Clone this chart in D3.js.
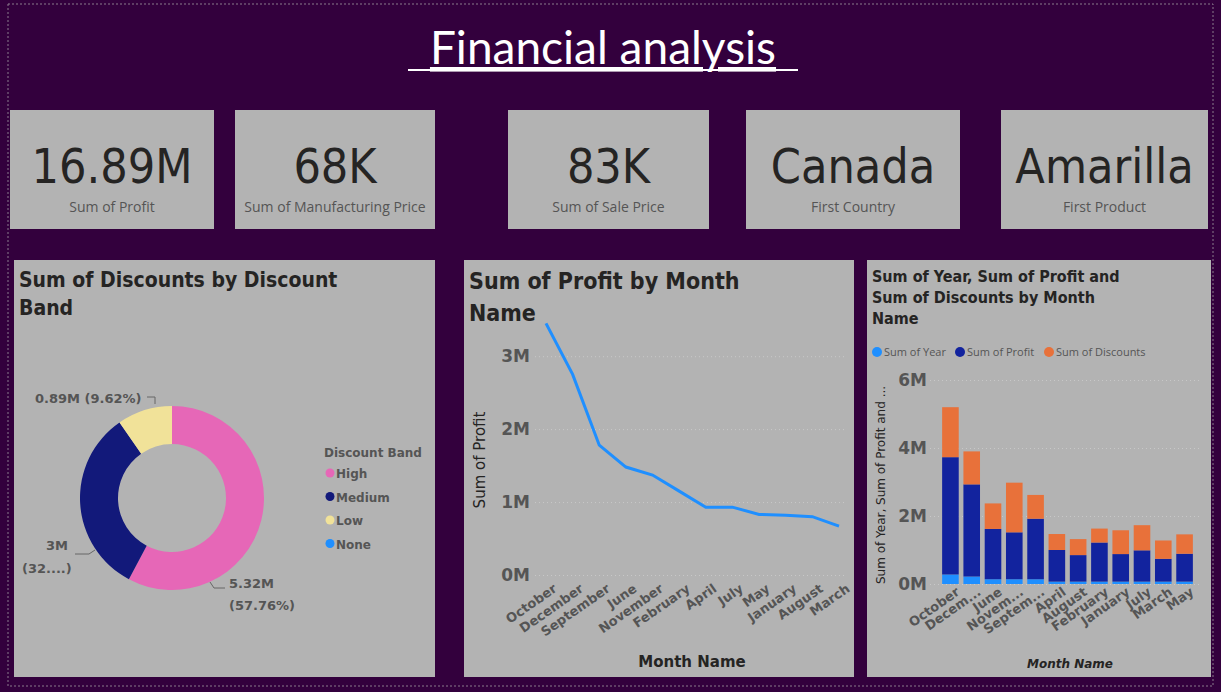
<!DOCTYPE html>
<html><head><meta charset="utf-8">
<script src="https://cdn.jsdelivr.net/npm/d3@7"></script>
<style>body{margin:0;background:#33003d;overflow:hidden}text{font-family:"DejaVu Sans",sans-serif}</style>
</head><body><svg id="c" width="1221" height="692"></svg>
<script>
// KPI cards
var kpiValues = ["16.89M", "68K", "83K", "Canada", "Amarilla"];
var kpiLabels = ["Sum of Profit", "Sum of Manufacturing Price", "Sum of Sale Price", "First Country", "First Product"];

// Donut
var bands = ["High", "Medium", "Low", "None"];
var bandValues = [5.32, 3.0, 0.89, 0];
var bandColors = ["#e667b7", "#12197a", "#f1e299", "#1f8fff"];

// Line chart
var lineMonths = ["October","December","September","June","November","February","April","July","May","January","August","March"];
var lineProfit = [3.45, 2.75, 1.78, 1.48, 1.37, 1.15, 0.93, 0.93, 0.83, 0.82, 0.80, 0.67];

// Stacked bars
var barMonths = ["October","Decem...","June","Novem...","Septem...","April","August","February","January","July","March","May"];
var barYear = [0.28, 0.22, 0.14, 0.14, 0.14, 0.07, 0.07, 0.07, 0.07, 0.07, 0.07, 0.07];
var barProfit = [3.45, 2.71, 1.48, 1.38, 1.78, 0.93, 0.78, 1.15, 0.81, 0.92, 0.67, 0.82];
var barDiscounts = [1.47, 0.97, 0.75, 1.46, 0.70, 0.47, 0.47, 0.41, 0.70, 0.74, 0.54, 0.57];
var barSeries = ["Sum of Year", "Sum of Profit", "Sum of Discounts"];
var barColors = ["#1f8fff", "#12239e", "#e8713a"];

var svg = d3.select("#c");
var grey = "#b3b3b3";

// outer dotted frame
svg.append("rect").attr("x", 8).attr("y", 4).attr("width", 1205).attr("height", 682)
   .attr("fill", "none").attr("stroke", "#8a7a8c").attr("stroke-dasharray", "2,2");

svg.append("text").attr("x", 603).attr("y", 64).attr("text-anchor", "middle")
   .attr("fill", "#fff").attr("font-size", 46).attr("text-decoration", "underline")
   .style("font-family", "Lato, sans-serif").text("Financial analysis");
svg.append("line").attr("x1", 408).attr("x2", 798).attr("y1", 70).attr("y2", 70)
   .attr("stroke", "#fff").attr("stroke-width", 2);

// cards
var cards = [[10, 204], [235, 200], [508, 201], [746, 214], [1001, 207]];
cards.forEach(function(c, i) {
  svg.append("rect").attr("x", c[0]).attr("y", 110).attr("width", c[1]).attr("height", 119).attr("fill", grey);
  svg.append("text").attr("x", c[0] + c[1] / 2).attr("y", 183).attr("text-anchor", "middle")
     .attr("font-size", 48).attr("fill", "#252423").style("font-family", "'DejaVu Sans Condensed', sans-serif").text(kpiValues[i]);
  svg.append("text").attr("x", c[0] + c[1] / 2).attr("y", 212).attr("text-anchor", "middle")
     .attr("font-size", 14).attr("fill", "#555").style("font-family", "'Open Sans', sans-serif").text(kpiLabels[i]);
});

// panels
function panel(x, y, w, h, lines, fs, lh) {
  svg.append("rect").attr("x", x).attr("y", y).attr("width", w).attr("height", h).attr("fill", grey);
  lines.forEach(function(t, i) {
    svg.append("text").attr("x", x + 5).attr("y", y + fs + 6 + i * lh).attr("font-size", fs)
       .attr("font-weight", "bold").attr("fill", "#252423").style("font-family", "'DejaVu Sans Condensed', sans-serif").text(t);
  });
}
panel(14, 260, 421, 417, ["Sum of Discounts by Discount", "Band"], 21, 28);
panel(464, 260, 390, 417, ["Sum of Profit by Month", "Name"], 23, 32);
panel(867, 260, 344, 417, ["Sum of Year, Sum of Profit and", "Sum of Discounts by Month", "Name"], 16, 21);

// ---- donut
var pie = d3.pie().sort(null).value(function(d) { return d; });
var arcs = pie(bandValues);
var arc = d3.arc().innerRadius(54).outerRadius(92);
var dg = svg.append("g").attr("transform", "translate(172,498)");
dg.selectAll("path").data(arcs).enter().append("path").attr("d", arc)
  .attr("fill", function(d, i) { return bandColors[i]; });
var lab = svg.append("g").attr("font-size", 13).attr("fill", "#555").attr("font-weight", "bold");
lab.append("text").attr("x", 35).attr("y", 403).text("0.89M (9.62%)");
lab.append("path").attr("d", "M147,397h8v7").attr("stroke", "#666").attr("fill", "none");
lab.append("text").attr("x", 46).attr("y", 550).text("3M");
lab.append("text").attr("x", 22).attr("y", 573).text("(32....)");
lab.append("path").attr("d", "M75,554h14l6,-4").attr("stroke", "#666").attr("fill", "none");
lab.append("text").attr("x", 229).attr("y", 588).text("5.32M");
lab.append("text").attr("x", 229).attr("y", 610).text("(57.76%)");
lab.append("path").attr("d", "M210,582l4,6h11").attr("stroke", "#666").attr("fill", "none");
svg.append("text").attr("x", 324).attr("y", 457).attr("font-size", 12).attr("fill", "#555").attr("font-weight", "bold").text("Discount Band");
bands.forEach(function(b, i) {
  svg.append("circle").attr("cx", 330).attr("cy", 473 + i * 23.5).attr("r", 4.5).attr("fill", bandColors[i]);
  svg.append("text").attr("x", 336).attr("y", 478 + i * 23.5).attr("font-size", 12).attr("fill", "#555").attr("font-weight", "bold").text(b);
});

// ---- line chart
var lx = d3.scalePoint().domain(lineMonths).range([546, 839]);
var ly = d3.scaleLinear().domain([0, 3.4]).range([575, 327]);
var lg = svg.append("g");
lg.append("g").attr("transform", "translate(535,0)")
  .call(d3.axisLeft(ly).tickValues([0, 1, 2, 3]).tickFormat(function(d) { return d + "M"; }).tickSize(-310))
  .call(function(g) {
    g.select(".domain").remove();
    g.selectAll("line").attr("stroke", "#c8c8c8").attr("stroke-dasharray", "1,3");
    g.selectAll("text").attr("font-size", 17).attr("font-weight", "bold").attr("fill", "#555").attr("dx", -2);
  });
lg.append("g").attr("transform", "translate(0,585)")
  .call(d3.axisBottom(lx).tickSize(0))
  .call(function(g) {
    g.select(".domain").remove();
    g.selectAll("text").attr("font-size", 13).attr("font-weight", "bold").attr("fill", "#555")
     .attr("text-anchor", "end").attr("transform", "rotate(-35)").attr("dx", 6).attr("dy", 8);
  });
lg.append("path").datum(lineProfit).attr("fill", "none").attr("stroke", "#1f8fff").attr("stroke-width", 3)
  .attr("d", d3.line().x(function(d, i) { return lx(lineMonths[i]); }).y(function(d) { return ly(d); }));
svg.append("text").attr("transform", "translate(485,460) rotate(-90)").attr("text-anchor", "middle")
   .attr("font-size", 15).attr("fill", "#252423").text("Sum of Profit");
svg.append("text").attr("x", 692).attr("y", 667).attr("text-anchor", "middle")
   .attr("font-size", 15).attr("font-weight", "bold").attr("fill", "#252423").text("Month Name");

// ---- stacked bars
var rows = barMonths.map(function(m, i) { return {m: m, y: barYear[i], p: barProfit[i], d: barDiscounts[i]}; });
var stack = d3.stack().keys(["y", "p", "d"])(rows);
var bx = d3.scaleBand().domain(barMonths).range([940, 1195]).paddingInner(0.22).paddingOuter(0.1);
var by = d3.scaleLinear().domain([0, 6]).range([584, 380]);
var bg = svg.append("g");
bg.append("g").attr("transform", "translate(930,0)")
  .call(d3.axisLeft(by).tickValues([0, 2, 4, 6]).tickFormat(function(d) { return d + "M"; }).tickSize(-270))
  .call(function(g) {
    g.select(".domain").remove();
    g.selectAll("line").attr("stroke", "#c8c8c8").attr("stroke-dasharray", "1,3");
    g.selectAll("text").attr("font-size", 17).attr("font-weight", "bold").attr("fill", "#555");
  });
bg.selectAll("g.s").data(stack).enter().append("g").attr("class", "s")
  .attr("fill", function(d, i) { return barColors[i]; })
  .selectAll("rect").data(function(d) { return d; }).enter().append("rect")
  .attr("x", function(d) { return bx(d.data.m); }).attr("width", bx.bandwidth())
  .attr("y", function(d) { return by(d[1]); })
  .attr("height", function(d) { return by(d[0]) - by(d[1]); });
bg.append("g").attr("transform", "translate(0,590)")
  .call(d3.axisBottom(bx).tickSize(0))
  .call(function(g) {
    g.select(".domain").remove();
    g.selectAll("text").attr("font-size", 13).attr("font-weight", "bold").attr("fill", "#555")
     .attr("text-anchor", "end").attr("transform", "rotate(-35)").attr("dx", 6).attr("dy", 6);
  });
svg.append("text").attr("transform", "translate(885,485) rotate(-90)").attr("text-anchor", "middle")
   .attr("font-size", 12).attr("fill", "#252423").text("Sum of Year, Sum of Profit and ...");
svg.append("text").attr("x", 1070).attr("y", 668).attr("text-anchor", "middle")
   .attr("font-size", 12).attr("font-weight", "bold").attr("font-style", "italic").attr("fill", "#252423").text("Month Name");
var legX = [877, 960, 1049];
barSeries.forEach(function(s, i) {
  svg.append("circle").attr("cx", legX[i]).attr("cy", 352).attr("r", 5).attr("fill", barColors[i]);
  svg.append("text").attr("x", legX[i] + 7).attr("y", 356).attr("font-size", 11).attr("fill", "#555")
     .style("font-family", "'Open Sans', sans-serif").text(s);
});
</script></body></html>
